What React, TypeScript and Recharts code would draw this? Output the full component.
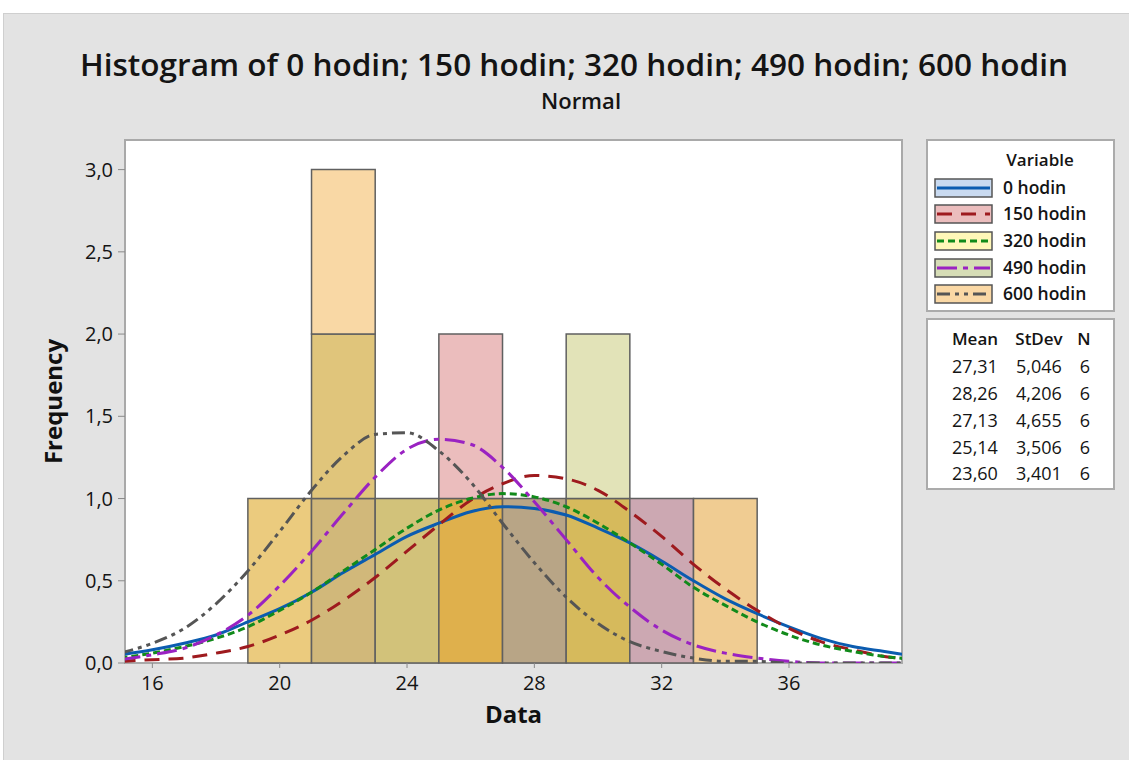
import { ComposedChart, Line, XAxis, YAxis, ReferenceArea } from "recharts"

// Histogram bins (lower edges), width 2
const binStarts = [19, 21, 23, 25, 27, 29, 31, 33]
const binWidth = 2

// Frequencies per bin for each variable
const freq0 = [1, 1, 0, 1, 0, 1, 1, 1]
const freq150 = [0, 0, 1, 2, 1, 0, 1, 1]
const freq320 = [0, 1, 1, 1, 0, 2, 0, 1]
const freq490 = [0, 2, 1, 1, 1, 1, 0, 0]
const freq600 = [1, 3, 0, 1, 1, 0, 0, 0]

// Normal fit curves
const fitX = [15, 16, 17, 18, 19, 20, 21, 22, 23, 24, 25, 26, 27, 28, 29, 30, 31, 32, 33, 34, 35, 36, 37, 38, 39, 40]
const fit0 = [0.05, 0.08, 0.12, 0.17, 0.25, 0.33, 0.43, 0.55, 0.66, 0.77, 0.85, 0.92, 0.95, 0.94, 0.9, 0.82, 0.73, 0.62, 0.5, 0.39, 0.3, 0.22, 0.15, 0.1, 0.07, 0.04]
const fit150 = [0.01, 0.02, 0.03, 0.06, 0.1, 0.17, 0.26, 0.38, 0.52, 0.68, 0.84, 0.99, 1.09, 1.14, 1.12, 1.05, 0.92, 0.77, 0.6, 0.45, 0.32, 0.21, 0.13, 0.08, 0.04, 0.02]
const fit320 = [0.03, 0.06, 0.1, 0.15, 0.22, 0.32, 0.43, 0.56, 0.69, 0.82, 0.93, 1.0, 1.03, 1.01, 0.95, 0.85, 0.73, 0.6, 0.46, 0.35, 0.25, 0.17, 0.11, 0.07, 0.04, 0.02]
const fit490 = [0.02, 0.05, 0.09, 0.17, 0.29, 0.47, 0.68, 0.91, 1.13, 1.3, 1.36, 1.33, 1.19, 0.98, 0.75, 0.52, 0.34, 0.2, 0.11, 0.06, 0.03, 0.01, 0, 0, 0, 0]
const fit600 = [0.06, 0.12, 0.21, 0.36, 0.56, 0.8, 1.05, 1.26, 1.39, 1.4, 1.29, 1.1, 0.85, 0.61, 0.4, 0.24, 0.13, 0.07, 0.03, 0.01, 0.01, 0, 0, 0, 0, 0]

// Legend / summary table
const variables = ["0 hodin", "150 hodin", "320 hodin", "490 hodin", "600 hodin"]
const means = ["27,31", "28,26", "27,13", "25,14", "23,60"]
const stdevs = ["5,046", "4,206", "4,655", "3,506", "3,401"]
const counts = ["6", "6", "6", "6", "6"]

const xTicks = [16, 20, 24, 28, 32, 36]
const yTicks = [0, 0.5, 1, 1.5, 2, 2.5, 3]

// styles
const lineColors = ["#0B5CB0", "#9E1A1E", "#118A1A", "#9A22C2", "#555555"]
const lineDashes = [undefined, "15 9", "7 4", "20 6 5 6", "13 5 4 5 4 5"]
const patchFills = ["#C9DAF0", "#EBBDBD", "#FFF7B8", "#D6DDB6", "#FAD8A5"]
// overlaid bars show blended colours, one per level of each bin
const layerFills = [
  ["#EBCB7E"],
  ["#D1B87A", "#E0C57B", "#F9D8A5"],
  ["#D2C27A"],
  ["#DFB04C", "#EBBDBD"],
  ["#B8A586"],
  ["#D6BA5C", "#E2E3B8"],
  ["#CCA8B2"],
  ["#F0CC92"],
]

const FONT = "'Open Sans', 'Noto Sans', sans-serif"
const seriesKeys = ["v0", "v150", "v320", "v490", "v600"]
const allFreq = [freq0, freq150, freq320, freq490, freq600]

const chartData = fitX.map((x, i) => ({
  x,
  v0: fit0[i],
  v150: fit150[i],
  v320: fit320[i],
  v490: fit490[i],
  v600: fit600[i],
}))

const fmt = (v: number) => v.toFixed(1).replace(".", ",")

function Background() {
  const rowsY = [188, 214, 241, 268, 294]
  const statY = [367, 394, 421, 448, 474]
  const txt = { fontFamily: FONT, fill: "#141414" }
  return (
    <svg width={1129} height={760} style={{ position: "absolute", left: 0, top: 0 }}>
      <rect x={0} y={0} width={1129} height={760} fill="#fff" />
      <rect x={3.5} y={13.5} width={1130} height={750} fill="#E3E3E3" stroke="#CFCFCF" />
      <text x={574} y={76} textAnchor="middle" fontSize={30} fontWeight={600} {...txt}
        textLength={988} lengthAdjust="spacingAndGlyphs">
        Histogram of 0 hodin; 150 hodin; 320 hodin; 490 hodin; 600 hodin
      </text>
      <text x={581} y={109} textAnchor="middle" fontSize={22} fontWeight={600} {...txt}>
        Normal
      </text>
      <rect x={125} y={140} width={777} height={523} fill="#fff" stroke="#A9A9A9" strokeWidth={2} />

      {/* legend */}
      <rect x={927} y={140} width={187} height={171} fill="#fff" stroke="#ABABAB" strokeWidth={2} />
      <text x={1040} y={166} textAnchor="middle" fontSize={17} fontWeight={600} {...txt}>Variable</text>
      {variables.map((v, i) => (
        <g key={v}>
          <rect x={935} y={rowsY[i] - 9} width={57} height={18} fill={patchFills[i]} stroke="#555" strokeWidth={1.5} />
          <line x1={937} x2={990} y1={rowsY[i]} y2={rowsY[i]} stroke={lineColors[i]} strokeWidth={3} strokeDasharray={lineDashes[i]} />
          <text x={1003} y={rowsY[i] + 6} fontSize={17.5} fontWeight={600} {...txt}>{v}</text>
        </g>
      ))}

      {/* summary table */}
      <rect x={927} y={319} width={187} height={170} fill="#fff" stroke="#ABABAB" strokeWidth={2} />
      <text x={975} y={345} textAnchor="middle" fontSize={17} fontWeight={600} {...txt}>Mean</text>
      <text x={1039} y={345} textAnchor="middle" fontSize={17} fontWeight={600} {...txt}>StDev</text>
      <text x={1084} y={345} textAnchor="middle" fontSize={17} fontWeight={600} {...txt}>N</text>
      {means.map((m, i) => (
        <g key={i}>
          <text x={975} y={statY[i] + 6} textAnchor="middle" fontSize={18} {...txt}>{m}</text>
          <text x={1039} y={statY[i] + 6} textAnchor="middle" fontSize={18} {...txt}>{stdevs[i]}</text>
          <text x={1085} y={statY[i] + 6} textAnchor="middle" fontSize={18} {...txt}>{counts[i]}</text>
        </g>
      ))}
    </svg>
  )
}

export default function App() {
  // one rectangle per level of each bin (tallest variable sets the bin height)
  const layers: { x1: number; x2: number; y1: number; y2: number; fill: string }[] = []
  binStarts.forEach((start, b) => {
    const top = Math.max(...allFreq.map((f) => f[b]))
    for (let lvl = 0; lvl < top; lvl++) {
      layers.push({ x1: start, x2: start + binWidth, y1: lvl, y2: lvl + 1, fill: layerFills[b][lvl] })
    }
  })

  return (
    <div style={{ position: "absolute", left: 0, top: 0, width: 1129, height: 760, overflow: "hidden" }}>
      <Background />
      <div style={{ position: "absolute", left: 0, top: 0 }}>
        <ComposedChart width={1129} height={760} data={chartData}
          margin={{ top: 140, right: 227, bottom: 67, left: 65 }}>
          <XAxis
            dataKey="x"
            type="number"
            domain={[15.14, 39.55]}
            allowDataOverflow
            ticks={xTicks}
            axisLine={false}
            tickSize={5}
            tickMargin={8}
            height={30}
            tickLine={{ stroke: "#8A8A8A" }}
            tick={{ fill: "#141414", fontSize: 20, fontFamily: FONT }}
            label={{ value: "Data", position: "bottom", offset: 13, style: { fontFamily: FONT, fontSize: 24, fontWeight: 700, fill: "#111" } }}
          />
          <YAxis
            type="number"
            domain={[0, 3.18]}
            allowDataOverflow
            ticks={yTicks}
            tickFormatter={fmt}
            axisLine={false}
            width={60}
            tickSize={7}
            tickMargin={5}
            tickLine={{ stroke: "#8A8A8A" }}
            tick={{ fill: "#141414", fontSize: 20, fontFamily: FONT }}
            label={{ value: "Frequency", angle: -90, position: "insideLeft", offset: -12, style: { textAnchor: "middle", fontFamily: FONT, fontSize: 24, fontWeight: 700, fill: "#111" } }}
          />
          {layers.map((l, i) => (
            <ReferenceArea key={i} x1={l.x1} x2={l.x2} y1={l.y1} y2={l.y2}
              fill={l.fill} fillOpacity={1} stroke="#606060" strokeWidth={1.5} />
          ))}
          {seriesKeys.map((k, i) => (
            <Line key={k} dataKey={k} type="monotone" stroke={lineColors[i]} strokeWidth={3}
              strokeDasharray={lineDashes[i]} dot={false} activeDot={false} isAnimationActive={false} />
          ))}
        </ComposedChart>
      </div>
    </div>
  )
}
